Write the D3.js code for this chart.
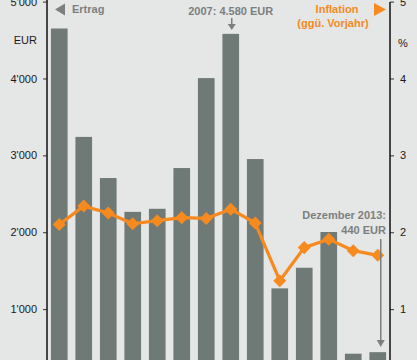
<!DOCTYPE html>
<html><head><meta charset="utf-8">
<script src="https://cdn.jsdelivr.net/npm/d3@7"></script>
<style>
html,body{margin:0;padding:0;background:#e5e6e6;overflow:hidden;}
svg{display:block;font-family:"Liberation Sans",Arial,sans-serif;}
</style></head><body>
<svg id="c" width="417" height="360"></svg>
<script>
const years = ["2000","2001","2002","2003","2004","2005","2006","2007","2008","2009","2010","2011","2012","2013"];
const ertrag = [4650, 3240, 2705, 2265, 2305, 2835, 4005, 4580, 2952, 1270, 1538, 2003, 420, 440];
const inflation = [2.10, 2.34, 2.25, 2.11, 2.15, 2.19, 2.18, 2.30, 2.12, 1.37, 1.80, 1.91, 1.76, 1.70];
const leftTicks = [1000, 2000, 3000, 4000, 5000];
const rightTicks = [1, 2, 3, 4, 5];

const svg = d3.select("#c");
const W = 417, H = 360;
const xL = 47, xR = 390;
const grey = "#7b807f", barCol = "#6f7a76", orange = "#f68a1e";

const x = d3.scaleBand().domain(years).range([xL, xR]).paddingInner(0.32).paddingOuter(0.16);
const yL = d3.scaleLinear().domain([0, 5000]).range([386, 1.6]);
const yR = d3.scaleLinear().domain([0, 5]).range([386, 1.6]);

svg.append("rect").attr("width", W).attr("height", H).attr("fill", "#e5e6e6");

// bars
svg.append("g").selectAll("rect").data(years).join("rect")
  .attr("x", d => x(d)).attr("width", x.bandwidth())
  .attr("y", (d, i) => yL(ertrag[i]))
  .attr("height", (d, i) => yL(0) - yL(ertrag[i]))
  .attr("fill", barCol);

// axes
const fmt = d => d3.format(",")(d).replace(/,/g, "'");
const axL = svg.append("g").attr("transform", `translate(${xL},0)`)
  .call(d3.axisLeft(yL).tickValues(leftTicks).tickFormat(fmt).tickSize(4).tickPadding(6));
const axR = svg.append("g").attr("transform", `translate(${xR},0)`)
  .call(d3.axisRight(yR).tickValues(rightTicks).tickFormat(d3.format("d")).tickSize(4).tickPadding(6));
[axL, axR].forEach(a => {
  a.select(".domain").remove();
  a.selectAll(".tick line").attr("stroke", "#333").attr("stroke-width", 1);
  a.selectAll(".tick text").attr("font-size", 11).attr("fill", "#1a1a1a")
    .attr("font-family", "'Liberation Sans',Arial,sans-serif");
});
svg.append("line").attr("x1", xL).attr("x2", xL).attr("y1", 0).attr("y2", H).attr("stroke", "#111").attr("stroke-width", 1.5);
svg.append("line").attr("x1", xR).attr("x2", xR).attr("y1", 2).attr("y2", H).attr("stroke", "#111").attr("stroke-width", 1.5);

// units
svg.append("text").attr("x", 37).attr("y", 44).attr("text-anchor", "end")
  .attr("font-size", 11).attr("fill", "#1a1a1a").text("EUR");
svg.append("text").attr("x", 398).attr("y", 47)
  .attr("font-size", 11).attr("fill", "#1a1a1a").text("%");

// inflation line
const cx = (d, i) => x(years[i]) + x.bandwidth() / 2;
const line = d3.line().x((d, i) => cx(d, i)).y(d => yR(d));
svg.append("path").datum(inflation).attr("d", line)
  .attr("fill", "none").attr("stroke", orange).attr("stroke-width", 3.2).attr("stroke-linejoin", "round");
svg.append("g").selectAll("path").data(inflation).join("path")
  .attr("d", d3.symbol(d3.symbolSquare, 85)())
  .attr("transform", (d, i) => `translate(${cx(d, i)},${yR(d)}) rotate(45)`)
  .attr("fill", orange);

// legends
svg.append("path").attr("d", "M55,9.5 L65,3.5 L65,15.5 Z").attr("fill", grey);
svg.append("text").attr("x", 72).attr("y", 13).attr("font-size", 11).attr("font-weight", "bold")
  .attr("fill", grey).text("Ertrag");
svg.append("path").attr("d", "M386,9.5 L374,3 L374,16 Z").attr("fill", orange);
svg.append("text").attr("x", 337).attr("y", 13).attr("text-anchor", "middle").attr("font-size", 11)
  .attr("font-weight", "bold").attr("fill", orange).text("Inflation");
svg.append("text").attr("x", 333).attr("y", 27).attr("text-anchor", "middle").attr("font-size", 11)
  .attr("font-weight", "bold").attr("fill", orange).text("(ggü. Vorjahr)");

// annotations
const c8 = x("2007") + x.bandwidth() / 2 + 1;
svg.append("text").attr("x", c8 - 1).attr("y", 15).attr("text-anchor", "middle").attr("font-size", 11)
  .attr("font-weight", "bold").attr("fill", grey).text("2007: 4.580 EUR");
svg.append("line").attr("x1", c8).attr("x2", c8).attr("y1", 18).attr("y2", 25).attr("stroke", grey).attr("stroke-width", 1.5);
svg.append("path").attr("d", `M${c8 - 4},24 L${c8 + 4},24 L${c8},30 Z`).attr("fill", grey);

const c14 = x("2013") + x.bandwidth() / 2 + 3;
svg.append("text").attr("x", 386).attr("y", 218.5).attr("text-anchor", "end").attr("font-size", 11)
  .attr("font-weight", "bold").attr("fill", grey).text("Dezember 2013:");
svg.append("text").attr("x", 386).attr("y", 233.5).attr("text-anchor", "end").attr("font-size", 11)
  .attr("font-weight", "bold").attr("fill", grey).text("440 EUR");
svg.append("line").attr("x1", c14).attr("x2", c14).attr("y1", 239).attr("y2", 341).attr("stroke", grey).attr("stroke-width", 1.5);
svg.append("path").attr("d", `M${c14 - 4},340 L${c14 + 4},340 L${c14},347 Z`).attr("fill", grey);
</script>
</body></html>
